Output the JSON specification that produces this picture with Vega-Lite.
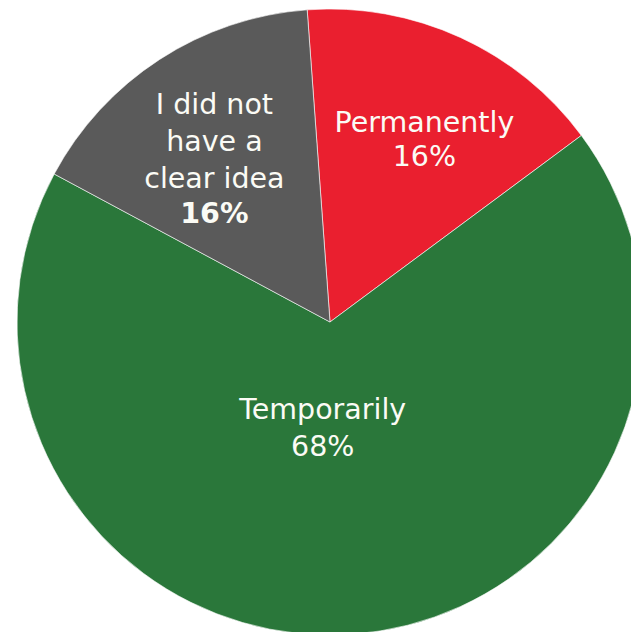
{
  "$schema": "https://vega.github.io/schema/vega-lite/v6.json",
  "width": 602,
  "height": 620,
  "autosize": "none",
  "padding": {"left": 29, "top": 12, "right": 0, "bottom": 0},
  "background": "white",
  "config": {"view": {"stroke": null}},
  "data": {"values": [
    {"cat": "Permanently", "value": 16, "rank": 1, "name": "Permanently", "pct": "16%"},
    {"cat": "Temporarily", "value": 68, "rank": 2, "name": "Temporarily", "pct": "68%"},
    {"cat": "I did not have a clear idea", "value": 16, "rank": 3, "name": ["I did not", "have a", "clear idea"], "pct": "16%"}
  ]},
  "encoding": {
    "theta": {"field": "value", "type": "quantitative", "stack": true, "scale": {"range": [-0.073, 6.2102]}},
    "order": {"field": "rank", "type": "quantitative"},
    "detail": {"field": "cat", "type": "nominal"}
  },
  "layer": [
    {
      "mark": {"type": "arc", "outerRadius": 313, "stroke": "white", "strokeWidth": 0.6},
      "encoding": {
        "color": {"field": "cat", "type": "nominal", "legend": null,
          "scale": {"domain": ["Permanently", "Temporarily", "I did not have a clear idea"], "range": ["#EA1F2F", "#2A773A", "#5A5A5A"]}}
      }
    },
    {
      "mark": {"type": "text", "radius": 205, "dx": 9, "dy": -13, "font": "DejaVu Sans", "fontSize": 28.5, "fill": "#FBFBF5", "baseline": "middle"},
      "encoding": {"text": {"condition": {"test": "datum.cat != 'Permanently'", "value": ""}, "field": "name"}}
    },
    {
      "mark": {"type": "text", "radius": 205, "dx": 9, "dy": 21, "font": "DejaVu Sans", "fontSize": 28.5, "fill": "#FBFBF5", "baseline": "middle"},
      "encoding": {"text": {"condition": {"test": "datum.cat != 'Permanently'", "value": ""}, "field": "pct"}}
    },
    {
      "mark": {"type": "text", "radius": 205, "dx": -4, "dy": -45, "lineHeight": 37, "font": "DejaVu Sans", "fontSize": 28.5, "fill": "#FBFBF5", "baseline": "middle"},
      "encoding": {"text": {"condition": {"test": "datum.cat != 'I did not have a clear idea'", "value": ""}, "field": "name"}}
    },
    {
      "mark": {"type": "text", "radius": 205, "dx": -4, "dy": 64, "font": "DejaVu Sans", "fontSize": 28.5, "fontWeight": "bold", "fill": "#FBFBF5", "baseline": "middle"},
      "encoding": {"text": {"condition": {"test": "datum.cat != 'I did not have a clear idea'", "value": ""}, "field": "pct"}}
    },
    {
      "mark": {"type": "text", "radius": 106, "dx": -15, "dy": -18, "font": "DejaVu Sans", "fontSize": 28.5, "fill": "#FBFBF5", "baseline": "middle"},
      "encoding": {"text": {"condition": {"test": "datum.cat != 'Temporarily'", "value": ""}, "field": "name"}}
    },
    {
      "mark": {"type": "text", "radius": 106, "dx": -15, "dy": 19, "font": "DejaVu Sans", "fontSize": 28.5, "fill": "#FBFBF5", "baseline": "middle"},
      "encoding": {"text": {"condition": {"test": "datum.cat != 'Temporarily'", "value": ""}, "field": "pct"}}
    }
  ]
}
